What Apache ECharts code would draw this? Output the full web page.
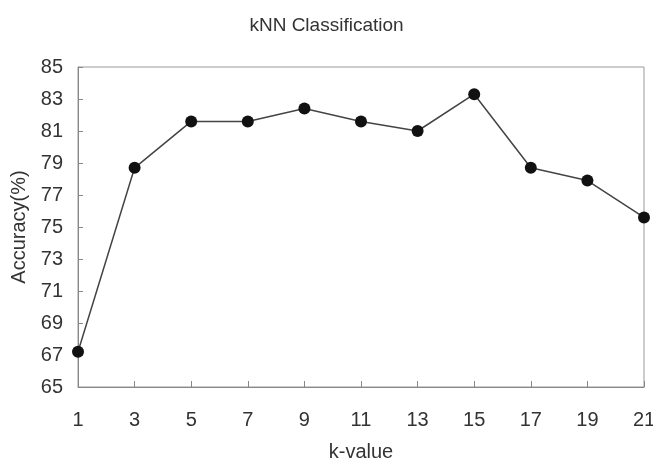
<!DOCTYPE html>
<html><head><meta charset="utf-8">
<script src="https://cdn.jsdelivr.net/npm/echarts@6/dist/echarts.min.js"></script>
<style>html,body{margin:0;padding:0;background:#fff}#c{width:653px;height:464px}</style>
</head><body><div id="c"></div>
<script>
const categories = ['1','3','5','7','9','11','13','15','17','19','21'];
const accuracy = [67.2, 78.7, 81.6, 81.6, 82.4, 81.6, 81.0, 83.3, 78.7, 77.9, 75.6];
const yMin = 65, yMax = 85, yStep = 2;

const chart = echarts.init(document.getElementById('c'));
const font = 'Liberation Sans, Arial, sans-serif';
chart.setOption({
  animation: false,
  backgroundColor: '#fff',
  title: { text: 'kNN Classification', left: 'center', top: 11,
    textStyle: { fontFamily: font, fontSize: 19, fontWeight: 'normal', color: '#333' } },
  grid: { left: 78, right: 9, top: 67, bottom: 77, show: true, borderColor: '#999', borderWidth: 1,
    containLabel: false, outerBoundsMode: 'none' },
  xAxis: {
    type: 'category', data: categories, boundaryGap: false,
    name: 'k-value', nameLocation: 'middle', nameGap: 55,
    nameTextStyle: { fontFamily: font, fontSize: 20, color: '#333' },
    axisLine: { lineStyle: { color: '#888' } },
    axisTick: { inside: true, length: 6, lineStyle: { color: '#888' } },
    axisLabel: { fontFamily: font, fontSize: 20, color: '#333', margin: 23 },
    splitLine: { show: false }
  },
  yAxis: {
    type: 'value', min: yMin, max: yMax, interval: yStep,
    name: 'Accuracy(%)', nameLocation: 'middle', nameGap: 49,
    nameTextStyle: { fontFamily: font, fontSize: 20, color: '#333' },
    axisLine: { show: true, lineStyle: { color: '#888' } },
    axisTick: { show: true, inside: true, length: 5, lineStyle: { color: '#888' } },
    axisLabel: { fontFamily: font, fontSize: 20, color: '#333', margin: 15 },
    splitLine: { show: false }
  },
  series: [{
    type: 'line', data: accuracy,
    symbol: 'circle', symbolSize: 12,
    itemStyle: { color: '#111' },
    lineStyle: { color: '#444', width: 1.5 }
  }]
});
</script></body></html>
